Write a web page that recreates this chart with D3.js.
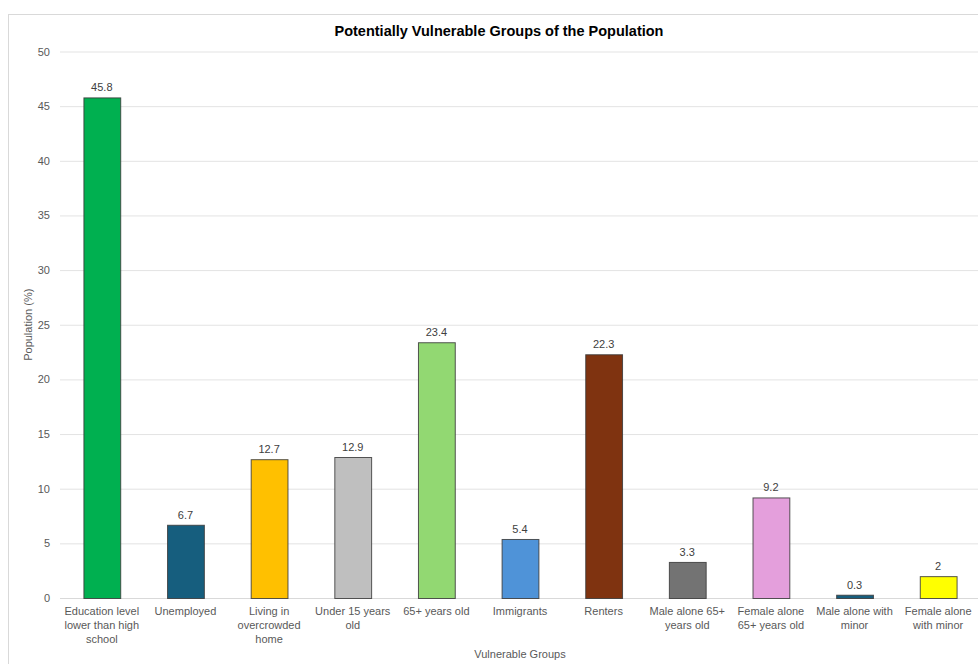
<!DOCTYPE html>
<html>
<head>
<meta charset="utf-8">
<script src="https://cdn.jsdelivr.net/npm/d3@7"></script>
<style>
  html, body { margin: 0; padding: 0; background: #fff; }
  svg { display: block; font-family: "Liberation Sans", Arial, sans-serif; }
</style>
</head>
<body>
<svg id="chart" width="978" height="664"></svg>
<script>
// Category labels (line breaks where the axis label wraps)
const categories = [
  ["Education level", "lower than high", "school"],
  ["Unemployed"],
  ["Living in", "overcrowded", "home"],
  ["Under 15 years", "old"],
  ["65+ years old"],
  ["Immigrants"],
  ["Renters"],
  ["Male alone 65+", "years old"],
  ["Female alone", "65+ years old"],
  ["Male alone with", "minor"],
  ["Female alone", "with minor"]
];
// Share of the population (%)
const values = [45.8, 6.7, 12.7, 12.9, 23.4, 5.4, 22.3, 3.3, 9.2, 0.3, 2];
const barColors = [
  "#00B050", "#165E7E", "#FFC000", "#BFBFBF", "#92D872", "#4F93D8",
  "#7F3310", "#737373", "#E49FDC", "#165E7E", "#FFFF00"
];
const yTicks = [0, 5, 10, 15, 20, 25, 30, 35, 40, 45, 50];

const svg = d3.select("#chart");

// Outer chart frame
svg.append("rect")
  .attr("x", 8.5).attr("y", 14.5)
  .attr("width", 980).attr("height", 660)
  .attr("fill", "#fff").attr("stroke", "#D9D9D9").attr("stroke-width", 1);

const plotLeft = 60, plotRight = 980, plotTop = 51.5, plotBottom = 598;

const x = d3.scaleBand()
  .domain(d3.range(values.length))
  .range([plotLeft, plotRight])
  .paddingInner(0.56)
  .paddingOuter(0.28);

const y = d3.scaleLinear().domain([0, 50]).range([plotBottom, plotTop]);

// Horizontal gridlines + tick labels
const yAxis = d3.axisLeft(y).tickValues(yTicks).tickSize(-(plotRight - plotLeft)).tickPadding(10);
const gy = svg.append("g").attr("transform", `translate(${plotLeft},0)`).call(yAxis);
gy.select(".domain").remove();
gy.selectAll(".tick line").attr("stroke", "#E3E3E3").attr("stroke-width", 1);
gy.selectAll(".tick text")
  .attr("fill", "#595959").attr("font-size", 11);

// Baseline
svg.append("line")
  .attr("x1", plotLeft).attr("x2", plotRight)
  .attr("y1", y(0) + 0.5).attr("y2", y(0) + 0.5)
  .attr("stroke", "#D9D9D9");

// Bars
svg.append("g").selectAll("rect")
  .data(values)
  .join("rect")
  .attr("x", (d, i) => x(i) + 0.5)
  .attr("y", d => y(d) + 0.5)
  .attr("width", x.bandwidth())
  .attr("height", d => y(0) - y(d))
  .attr("fill", (d, i) => barColors[i])
  .attr("stroke", "#3A3A3A")
  .attr("stroke-opacity", 0.85)
  .attr("stroke-width", 1);

// Value labels
svg.append("g").selectAll("text")
  .data(values)
  .join("text")
  .attr("x", (d, i) => x(i) + x.bandwidth() / 2)
  .attr("y", d => y(d) - 6)
  .attr("text-anchor", "middle")
  .attr("font-size", 11)
  .attr("fill", "#404040")
  .text(d => d);

// Category labels
const cat = svg.append("g").selectAll("text")
  .data(categories)
  .join("text")
  .attr("x", (d, i) => x(i) + x.bandwidth() / 2)
  .attr("y", 615)
  .attr("text-anchor", "middle")
  .attr("font-size", 11)
  .attr("fill", "#595959");
cat.selectAll("tspan")
  .data(d => d)
  .join("tspan")
  .attr("x", function () { return d3.select(this.parentNode).attr("x"); })
  .attr("dy", (d, j) => j === 0 ? 0 : 14)
  .text(d => d);

// Title
svg.append("text")
  .attr("x", 499).attr("y", 36)
  .attr("text-anchor", "middle")
  .attr("font-size", 14.5).attr("font-weight", "bold")
  .attr("fill", "#000")
  .text("Potentially Vulnerable Groups of the Population");

// Axis titles
svg.append("text")
  .attr("transform", `translate(32,${(plotTop + plotBottom) / 2}) rotate(-90)`)
  .attr("text-anchor", "middle")
  .attr("font-size", 11)
  .attr("fill", "#595959")
  .text("Population (%)");

svg.append("text")
  .attr("x", 520).attr("y", 658)
  .attr("text-anchor", "middle")
  .attr("font-size", 11)
  .attr("fill", "#595959")
  .text("Vulnerable Groups");
</script>
</body>
</html>
